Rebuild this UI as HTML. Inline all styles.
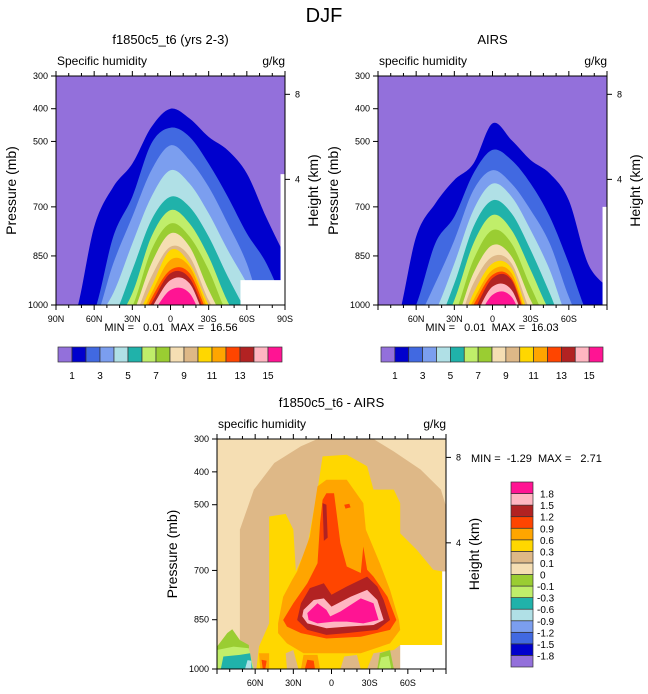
<!DOCTYPE html>
<html><head><meta charset="utf-8">
<style>
html,body{margin:0;padding:0;background:#fff;}
svg{display:block;font-family:"Liberation Sans",Arial,sans-serif;}
.pre{white-space:pre;}
</style></head>
<body>
<svg id="fig" width="648" height="694" viewBox="0 0 648 694" xmlns="http://www.w3.org/2000/svg">
<text x="324" y="22" font-size="20" text-anchor="middle">DJF</text>
</svg>
<script>
// ---------------- DATA ----------------
const lats = [90,75,60,45,30,15,0,-15,-30,-45,-60,-75,-90];
const qColors = ["#9370DB","#0000CD","#4169E1","#7B9EEF","#B0E0E6","#20B2AA","#C0EE6A","#9ACD32","#F5DEB3","#DEB887","#FFD700","#FFA500","#FF4500","#B22222","#FFB6C1","#FF1493"];
const qBarLabels = ["1","3","5","7","9","11","13","15"];
const modelLevels = [
 [1050,1030,761,639,568,456,400,430,486,527,598,730,850],
 [1050,1050,1020,791,669,506,458,486,568,669,781,870,1000],
 [1100,1050,1050,873,730,588,512,557,639,751,873,1050,1100],
 [1100,1100,1050,964,812,669,588,629,720,832,934,1050,1100],
 [1100,1100,1100,1040,893,740,669,700,791,913,1020,1100,1100],
 [1100,1100,1100,1060,964,791,710,751,852,990,1080,1100,1100],
 [1100,1100,1100,1080,1005,832,751,791,893,1030,1100,1100,1100],
 [1100,1100,1100,1100,1030,873,781,822,954,1060,1100,1100,1100],
 [1100,1100,1100,1100,1050,913,822,852,985,1080,1100,1100,1100],
 [1100,1100,1100,1100,1060,944,832,873,1000,1100,1100,1100,1100],
 [1100,1100,1100,1100,1080,964,862,883,1015,1100,1100,1100,1100],
 [1100,1100,1100,1100,1100,980,893,903,1030,1100,1100,1100,1100],
 [1100,1100,1100,1100,1100,995,903,918,1045,1100,1100,1100,1100],
 [1100,1100,1100,1100,1100,1010,924,934,1060,1100,1100,1100,1100],
 [1100,1100,1100,1100,1100,1030,954,964,1080,1100,1100,1100,1100]
];
const airsLevels = [
 [1100,1050,791,690,618,568,445,496,557,598,680,873,944],
 [1100,1100,1000,812,730,598,526,557,629,730,873,1030,1100],
 [1100,1100,1050,934,802,649,588,629,710,812,975,1100,1100],
 [1100,1100,1100,1020,873,710,629,669,771,893,1050,1100,1100],
 [1100,1100,1100,1070,934,761,680,720,832,964,1100,1100,1100],
 [1100,1100,1100,1100,985,812,725,771,893,1020,1100,1100,1100],
 [1100,1100,1100,1100,1030,862,771,812,944,1060,1100,1100,1100],
 [1100,1100,1100,1100,1060,903,817,852,985,1090,1100,1100,1100],
 [1100,1100,1100,1100,1080,934,852,873,1020,1100,1100,1100,1100],
 [1100,1100,1100,1100,1100,964,873,888,1040,1100,1100,1100,1100],
 [1100,1100,1100,1100,1100,985,893,903,1060,1100,1100,1100,1100],
 [1100,1100,1100,1100,1100,1000,908,918,1070,1100,1100,1100,1100],
 [1100,1100,1100,1100,1100,1020,918,924,1080,1100,1100,1100,1100],
 [1100,1100,1100,1100,1100,1040,944,954,1090,1100,1100,1100,1100],
 [1100,1100,1100,1100,1100,1060,969,975,1100,1100,1100,1100,1100]
];
const dColors = ["#9370DB","#0000CD","#4169E1","#7B9EEF","#B0E0E6","#20B2AA","#C0EE6A","#9ACD32","#F5DEB3","#DEB887","#FFD700","#FFA500","#FF4500","#B22222","#FFB6C1","#FF1493"];
const dBarLabels = ["-1.8","-1.5","-1.2","-0.9","-0.6","-0.3","-0.1","0","0.1","0.3","0.6","0.9","1.2","1.5","1.8"];
const diffRegions = [
 [9, [[72,1000],[72,576],[61,454],[45,373],[24,322],[11,300],[-33,300],[-49,338],[-70,393],[-86,454],[-90,505],[-90,1000]]],
 [10,[[59,1000],[57,932],[49,861],[49,536],[36,528],[30,576],[28,703],[19,627],[11,454],[7,353],[-12,348],[-28,383],[-33,454],[-49,454],[-54,495],[-54,587],[-67,637],[-80,698],[-87,703],[-87,927],[-54,927],[-49,942],[-33,952],[-28,1000]]],
 [9, [[35,1000],[36,952],[30,942],[26,1000]]],
 [9, [[-7,1000],[-10,962],[-20,957],[-23,1000]]],
 [11,[[42,861],[38,780],[31,729],[27,703],[17,597],[11,444],[4,424],[-12,424],[-25,495],[-27,576],[-38,678],[-46,759],[-53,851],[-54,881],[-46,922],[-23,952],[4,952],[22,952],[35,922],[42,891]]],
 [11,[[56,1000],[57,952],[49,952],[49,1000]]],
 [11,[[24,1000],[22,957],[11,957],[9,1000]]],
 [12,[[38,851],[30,800],[19,739],[11,678],[9,556],[7,485],[4,465],[-2,465],[-7,617],[-12,688],[-23,708],[-25,627],[-28,698],[-33,719],[-44,780],[-51,851],[-46,881],[-23,902],[4,907],[24,891],[35,871]]],
 [12,[[-10,500],[-14,497],[-15,508],[-11,512]]],
 [12,[[54,1000],[55,972],[51,975],[52,1000]]],
 [12,[[21,1000],[19,972],[14,975],[13,1000]]],
 [13,[[24,800],[17,754],[6,739],[0,774],[-12,749],[-28,719],[-36,749],[-41,790],[-46,851],[-36,881],[-12,891],[4,896],[19,881],[27,851]]],
 [13,[[7,495],[4,500],[3,600],[6,610]]],
 [14,[[22,820],[14,790],[6,785],[0,810],[-15,780],[-28,759],[-36,790],[-41,851],[-33,866],[-12,871],[4,876],[19,861],[23,840]]],
 [15,[[19,830],[11,800],[4,820],[1,840],[-7,825],[-23,785],[-33,800],[-37,851],[-25,861],[-12,856],[-2,856],[11,861],[18,851]]],
 [7, [[90,1000],[90,932],[82,891],[78,879],[72,912],[65,927],[64,1000]]],
 [6, [[90,1000],[90,942],[77,932],[65,937],[61,1000]]],
 [5, [[87,1000],[85,962],[72,957],[64,952],[62,1000]]],
 [4, [[68,1000],[66,973],[63,975],[63,1000]]],
 [7, [[-36,1000],[-38,952],[-46,942],[-49,1000]]],
 [6, [[-37,1000],[-39,965],[-45,960],[-47,1000]]]
];
const pTicks = [300,400,500,700,850,1000];
const latTicks = [90,60,30,0,-30,-60,-90];
const latLabels = ["90N","60N","30N","0","30S","60S","90S"];
const hTicks = [8,4];
const hTickP = [356,616];

// ---------------- DRAWING ----------------
const svg = document.getElementById('fig');
const NS = "http://www.w3.org/2000/svg";
function mk(tag, attrs, parent){const e=document.createElementNS(NS,tag);for(const k in attrs)e.setAttribute(k,attrs[k]);(parent||svg).appendChild(e);return e;}
function txt(x,y,s,size,anchor,parent,rot){const t=mk('text',{x:x,y:y,'font-size':size,'text-anchor':anchor||'start',fill:'#000'},parent);if(rot)t.setAttribute('transform',`rotate(-90 ${x} ${y})`);t.textContent=s;return t;}

function makePanel(id,x0,y0,w,h){
  const X=lat=>x0+(90-lat)/180*w;
  const Y=p=>y0+(p-300)/700*h;
  const cp=mk('clipPath',{id:'clip-'+id});
  mk('rect',{x:x0,y:y0,width:w,height:h},cp);
  const g=mk('g',{'clip-path':`url(#clip-${id})`});
  
  
  return {X,Y,g,x0,y0,w,h};
}
function smoothPath(pts){
  let d=`M${pts[0][0]},${pts[0][1]}`;
  for(let i=0;i<pts.length-1;i++){
    const p0=pts[Math.max(i-1,0)],p1=pts[i],p2=pts[i+1],p3=pts[Math.min(i+2,pts.length-1)];
    const c1=[p1[0]+(p2[0]-p0[0])/6,p1[1]+(p2[1]-p0[1])/6];
    const c2=[p2[0]-(p3[0]-p1[0])/6,p2[1]-(p3[1]-p1[1])/6];
    d+=` C${c1[0]},${c1[1]} ${c2[0]},${c2[1]} ${p2[0]},${p2[1]}`;
  }
  return d;
}
function drawLevels(P,levels,colors,name){
  mk('rect',{x:P.x0,y:P.y0,width:P.w,height:P.h,fill:colors[0]},P.g);
  levels.forEach((arr,k)=>{
    const pts=lats.map((la,i)=>[P.X(la),P.Y(arr[i])]);
    const d=smoothPath(pts)+` L${P.X(-90)},${P.Y(1150)} L${P.X(90)},${P.Y(1150)} Z`;
    const el=mk('path',{d:d,fill:colors[k+1]},P.g);
    
    
  });
}
function whiteRect(P,la1,la2,p1,p2){
  mk('rect',{x:P.X(la1),y:P.Y(p1),width:P.X(la2)-P.X(la1),height:P.Y(p2)-P.Y(p1),fill:'#fff'},P.g);
}
function axes(P,name,showEnds,title,subL,subR){
  mk('rect',{x:P.x0,y:P.y0,width:P.w,height:P.h,fill:'none',stroke:'#000','stroke-width':1});
  pTicks.forEach(p=>{
    mk('line',{x1:P.x0-5,x2:P.x0,y1:P.Y(p),y2:P.Y(p),stroke:'#000'});
    const t=txt(P.x0-8,P.Y(p)+3,String(p),9,'end');
    
    
  });
  for(let la=90;la>=-90;la-=10){
    const maj=la%30===0;
    const x=P.X(la);
    mk('line',{x1:x,x2:x,y1:P.y0+P.h,y2:P.y0+P.h+(maj?5:3),stroke:'#000'});
    mk('line',{x1:x,x2:x,y1:P.y0,y2:P.y0-(maj?5:3),stroke:'#000'});
  }
  latTicks.forEach((la,i)=>{
    if(!showEnds&&(la===90||la===-90))return;
    const t=txt(P.X(la),P.y0+P.h+17,latLabels[i],9,'middle');
    
    
  });
  hTicks.forEach((hv,i)=>{
    const y=P.Y(hTickP[i]);
    mk('line',{x1:P.x0+P.w,x2:P.x0+P.w+5,y1:y,y2:y,stroke:'#000'});
    txt(P.x0+P.w+10,y+3,String(hv),9,'start');
  });
  const t1=txt(P.x0+P.w/2,P.y0-32,title,13,'middle');
  
  
  txt(P.x0+1,P.y0-11,subL,12,'start');
  txt(P.x0+P.w,P.y0-11,subR,12,'end');
  const py=txt(P.x0-40,P.y0+P.h/2,'Pressure (mb)',14,'middle',null,true);
  
  
  const hy=txt(P.x0+P.w+33,P.y0+P.h/2,'Height (km)',14,'middle',null,true);
  
  
}
function hColorbar(x0,y0,w,h,colors,labels,name){
  const n=colors.length, bw=w/n;
  colors.forEach((c,i)=>{
    const r=mk('rect',{x:x0+i*bw,y:y0,width:bw,height:h,fill:c,stroke:'#333','stroke-width':0.7});
    
    
  });
  labels.forEach((s,i)=>{txt(x0+(2*i+1)*bw,y0+h+17,s,10,'middle');});
}
function preTxt(x,y,s,anchor,name){
  const t=txt(x,y,s,11,anchor);
  t.setAttribute('class','pre');
  t.setAttribute('xml:space','preserve');
  
  
  return t;
}

// Panel A: model
const A=makePanel('model',56,76,229,229);
drawLevels(A,modelLevels,qColors,'model');
whiteRect(A,-55,-95,924,1010);
whiteRect(A,-86.5,-95,600,1010);
axes(A,'model',true,'f1850c5_t6 (yrs 2-3)','Specific humidity','g/kg');
preTxt(171,331,'MIN =   0.01  MAX =  16.56','middle','model-min-max');
hColorbar(58,347,224,15,qColors,qBarLabels,'model-colorbar');

// Panel B: AIRS
const B=makePanel('airs',378,76,229,229);
drawLevels(B,airsLevels,qColors,'airs');
whiteRect(B,-86.5,-95,700,1010);
whiteRect(B,-87.5,-95,850,1010);
axes(B,'airs',false,'AIRS','specific humidity','g/kg');
preTxt(492,331,'MIN =   0.01  MAX =  16.03','middle','airs-min-max');
hColorbar(381,347,222,15,qColors,qBarLabels,'airs-colorbar');

// Panel C: difference
const C=makePanel('diff',217,439,229,230);
mk('rect',{x:C.x0,y:C.y0,width:C.w,height:C.h,fill:dColors[8]},C.g);
diffRegions.forEach(([ci,poly],i)=>{
  const d='M'+poly.map(q=>`${C.X(q[0])},${C.Y(q[1])}`).join(' L')+' Z';
  const el=mk('path',{d:d,fill:dColors[ci]},C.g);
  
  
});
whiteRect(C,-54,-95,927,1010);
whiteRect(C,-87,-95,703,1010);
axes(C,'diff',false,'f1850c5_t6 - AIRS','specific humidity','g/kg');
preTxt(471,462,'MIN =  -1.29  MAX =   2.71','start','diff-min-max');
(function(){
  const x0=511,y0=482,w=22,h=185,n=dColors.length,bh=h/n;
  dColors.forEach((c,i)=>{
    const r=mk('rect',{x:x0,y:y0+h-(i+1)*bh,width:w,height:bh,fill:c,stroke:'#333','stroke-width':0.7});
    
    
  });
  dBarLabels.forEach((s,i)=>{txt(s.startsWith('-')?537:540,y0+h-(i+1)*bh+4,s,10,'start');});
})();
</script>
</body></html>
